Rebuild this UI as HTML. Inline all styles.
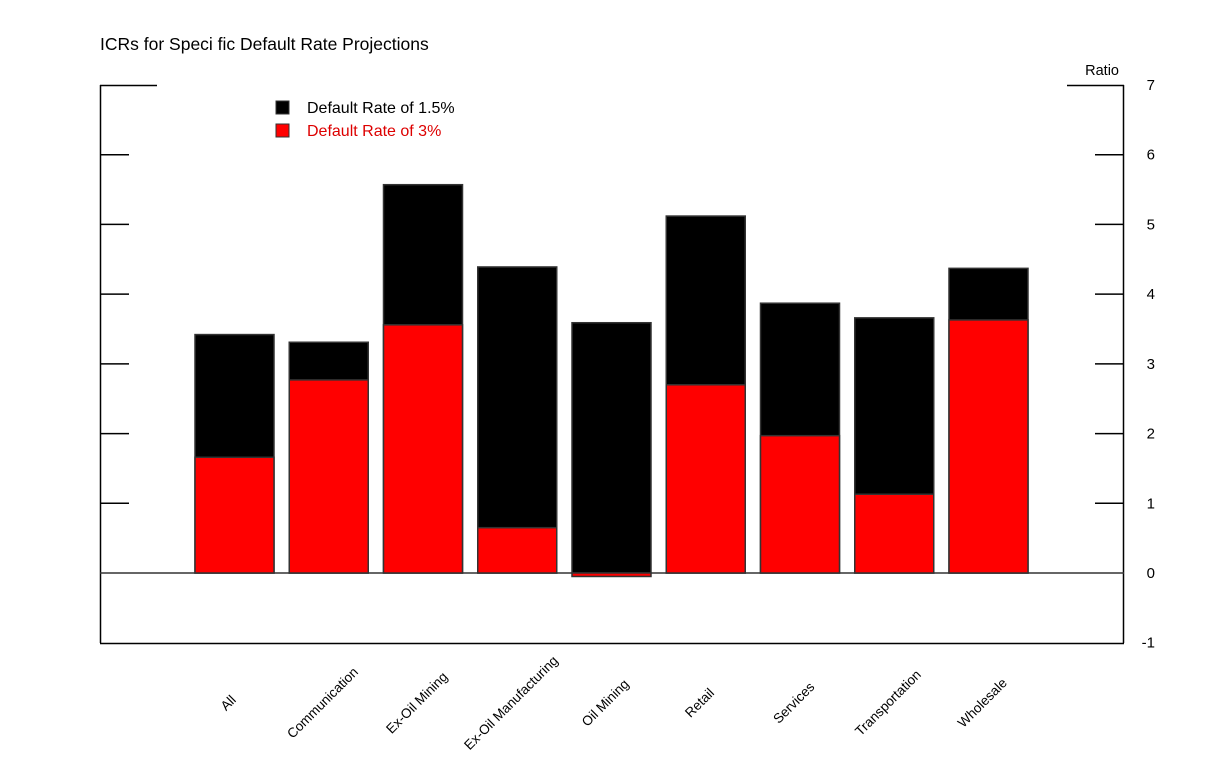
<!DOCTYPE html>
<html><head><meta charset="utf-8"><style>
body{margin:0;background:#fff}
svg{display:block;font-family:"Liberation Sans",sans-serif}
</style></head><body>
<svg id="chart" width="1224" height="761" viewBox="0 0 1224 761">
<text x="100" y="50" font-size="17.5">ICRs for Speci fic Default Rate Projections</text>
<text x="1119" y="75" font-size="14.5" text-anchor="end">Ratio</text>
<g id="axes"></g>
<g id="bars"></g>
<g id="labels"></g>
<g>
<rect x="276" y="101" width="13" height="13" fill="#000" stroke="#333"/>
<text x="307" y="113" font-size="16">Default Rate of 1.5%</text>
<rect x="276" y="124" width="13" height="13" fill="#f00" stroke="#333"/>
<text x="307" y="136" font-size="16" fill="#d00">Default Rate of 3%</text>
</g>
</svg>
<script>
const categories=["All","Communication","Ex-Oil Mining","Ex-Oil Manufacturing","Oil Mining","Retail","Services","Transportation","Wholesale"];
const rate15=[3.42,3.31,5.57,4.39,3.59,5.12,3.87,3.66,4.37];
const rate3=[1.66,2.77,3.56,0.65,-0.05,2.70,1.97,1.13,3.63];
const yTicks=[-1,0,1,2,3,4,5,6,7];
const NS="http://www.w3.org/2000/svg";
function y(v){return 573-v*(488/7);}
function xc(i){return 234.5+i*94.25;}
const BW=79;
function mk(t,a,p){const e=document.createElementNS(NS,t);for(const k in a)e.setAttribute(k,a[k]);p.appendChild(e);return e;}
const axes=document.getElementById('axes'),bars=document.getElementById('bars'),labels=document.getElementById('labels');
let e;
e=mk('line',{x1:100.5,y1:85,x2:100.5,y2:643,stroke:'#000','stroke-width':1.5},axes);


e=mk('line',{x1:1123.5,y1:85,x2:1123.5,y2:643,stroke:'#000','stroke-width':1.5},axes);


e=mk('line',{x1:100,y1:85.5,x2:157,y2:85.5,stroke:'#000','stroke-width':1.5},axes);


e=mk('line',{x1:1067,y1:85.5,x2:1124,y2:85.5,stroke:'#000','stroke-width':1.5},axes);


e=mk('line',{x1:100,y1:643.5,x2:1124,y2:643.5,stroke:'#000','stroke-width':1.5},axes);


e=mk('line',{x1:100,y1:y(0),x2:1124,y2:y(0),stroke:'#333','stroke-width':1.5},axes);


yTicks.forEach(t=>{
 if(t!==-1&&t!==7&&t!==0){
  e=mk('line',{x1:100,y1:y(t),x2:129,y2:y(t),stroke:'#000','stroke-width':1.5},axes);
  
  
  e=mk('line',{x1:1095,y1:y(t),x2:1124,y2:y(t),stroke:'#000','stroke-width':1.5},axes);
  
  
 }
 e=mk('text',{x:1155,y:y(t)+5,'font-size':15,'text-anchor':'end'},axes);
 e.textContent=t;
 
 
});
categories.forEach((c,i)=>{
 const x0=xc(i)-BW/2;
 const b=rate15[i];
 e=mk('rect',{x:x0,y:Math.min(y(b),y(0)),width:BW,height:Math.abs(y(b)-y(0)),fill:'#000',stroke:'#333','stroke-width':1.5},bars);
 
 
 const r=rate3[i];
 e=mk('rect',{x:x0,y:Math.min(y(r),y(0)),width:BW,height:Math.max(1.5,Math.abs(y(r)-y(0))),fill:'#f00',stroke:'#333','stroke-width':1.5},bars);
 
 
 const lx=xc(i)-3,ly=706;
 e=mk('text',{x:lx,y:ly,'font-size':13.5,'text-anchor':'middle',transform:`rotate(-45 ${lx} ${ly})`},labels);
 e.textContent=c;
 
 
});
</script>
</body></html>
